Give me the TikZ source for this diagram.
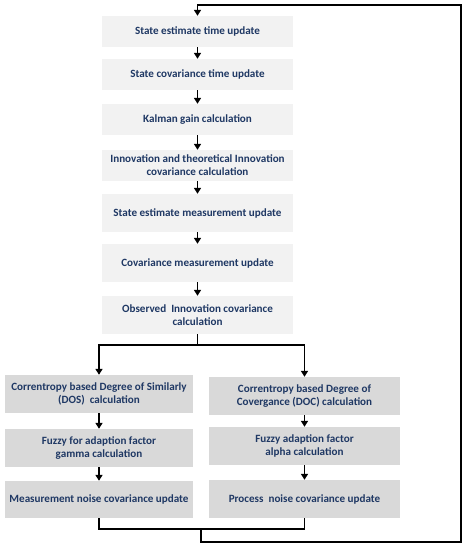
\documentclass[tikz,border=0pt]{standalone}
\usepackage{fontspec}
\setmainfont{Carlito}
\usetikzlibrary{arrows.meta}
\definecolor{txt}{HTML}{1F3864}
\definecolor{lightbox}{HTML}{F2F2F2}
\definecolor{darkbox}{HTML}{D9D9D9}
\begin{document}
\begin{tikzpicture}[x=1pt,y=-1pt,
  box/.style={fill=#1, draw=none, inner sep=0pt, text=txt,
    font=\fontsize{11.1}{13}\selectfont\bfseries, align=center},
  topbox/.style={box=lightbox, minimum width=191pt},
  lowbox/.style={box=darkbox},
  flow/.style={line width=1.8pt, -{Triangle[length=6pt,width=7pt]}},
  plain/.style={line width=1.8pt}]
\useasboundingbox (0,0) rectangle (467,550);
\node[topbox, minimum height=31pt] (b1) at (197.5,31.5) {State estimate time update};
\node[topbox, minimum height=31pt] (b2) at (197.5,74.5) {State covariance time update};
\node[topbox, minimum height=31pt] (b3) at (197.5,119.5) {Kalman gain calculation};
\node[topbox, minimum height=31pt] (b4) at (197.5,165.5) {Innovation and theoretical Innovation\\covariance calculation};
\node[topbox, minimum height=38pt] (b5) at (197.5,213) {State estimate measurement update};
\node[topbox, minimum height=38pt] (b6) at (197.5,263) {Covariance measurement update};
\node[topbox, minimum height=38pt] (b7) at (197.5,315) {Observed\ \ Innovation covariance\\calculation};
\node[lowbox, minimum width=188pt, minimum height=38pt] (l1) at (99,394) {Correntropy based Degree of Similarly\\(DOS)\ \ calculation};
\node[lowbox, minimum width=188pt, minimum height=38pt] (l2) at (99,448) {Fuzzy for adaption factor\\gamma calculation};
\node[lowbox, minimum width=188pt, minimum height=37pt] (l3) at (99,499.5) {Measurement noise covariance update};
\node[lowbox, minimum width=191pt, minimum height=38pt] (r1) at (304.5,396) {Correntropy based Degree of\\Covergance (DOC) calculation};
\node[lowbox, minimum width=191pt, minimum height=38pt] (r2) at (304.5,446) {Fuzzy adaption factor\\alpha calculation};
\node[lowbox, minimum width=191pt, minimum height=38pt] (r3) at (304.5,499) {Process\ \ noise covariance update};
\coordinate (sp) at (197.5,345);
\coordinate (mg) at (201,529);
\coordinate (fb1) at (461,542);
\coordinate (fb2) at (461,5);
\draw[flow] (b1) -- (b2);
\draw[flow] (b2) -- (b3);
\draw[flow] (b3) -- (b4);
\draw[flow] (b4) -- (b5);
\draw[flow] (b5) -- (b6);
\draw[flow] (b6) -- (b7);
\draw[plain] (b7.south) -- (sp);
\draw[flow] (sp) -| (l1.north);
\draw[flow] (sp) -| (r1.north);
\draw[flow] (l1) -- (l2);
\draw[flow] (l2) -- (l3);
\draw[flow] (r1) -- (r2);
\draw[flow] (r2) -- (r3);
\draw[plain] (l3.south) |- (mg) -| (r3.south);
\draw[flow] (mg) |- (fb1) -- (fb2) -| (b1.north);
\end{tikzpicture}
\end{document}
